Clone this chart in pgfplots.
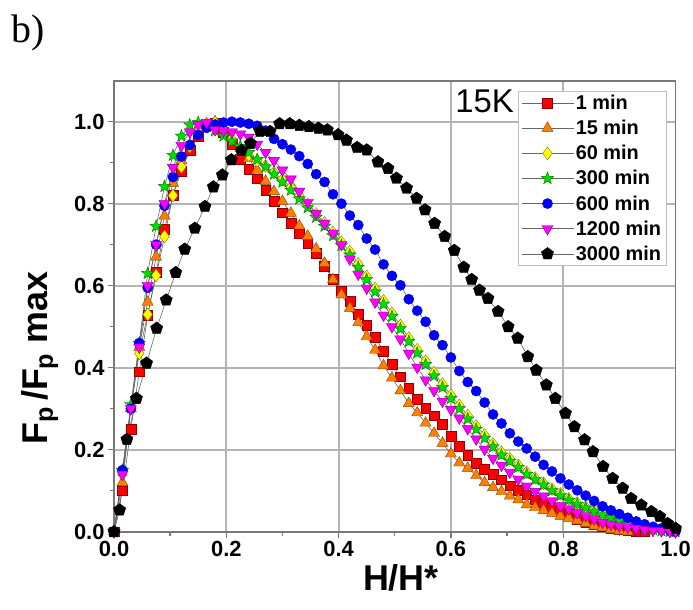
\documentclass[border=0pt]{standalone}
\usepackage{fontspec}
\setmainfont{Liberation Sans}
\newfontfamily\seriffont{Liberation Serif}
\usepackage{pgfplots}
\usepackage{pgfplotstable}
\pgfplotsset{compat=1.18}
\usetikzlibrary{plotmarks}

\definecolor{cred}{RGB}{255,0,0}
\definecolor{corange}{RGB}{255,128,0}
\definecolor{cyellow}{RGB}{255,255,0}
\definecolor{cgreen}{RGB}{0,220,0}
\definecolor{cblue}{RGB}{0,0,255}
\definecolor{cmag}{RGB}{255,0,255}
\definecolor{cgrid}{RGB}{180,180,180}
\definecolor{caxis}{RGB}{120,120,120}

\pgfdeclareplotmark{fstar}{%
  \pgfpathmoveto{\pgfpointpolar{90}{1.2\pgfplotmarksize}}%
  \pgfpathlineto{\pgfpointpolar{126}{0.5\pgfplotmarksize}}%
  \pgfpathlineto{\pgfpointpolar{162}{1.2\pgfplotmarksize}}%
  \pgfpathlineto{\pgfpointpolar{198}{0.5\pgfplotmarksize}}%
  \pgfpathlineto{\pgfpointpolar{234}{1.2\pgfplotmarksize}}%
  \pgfpathlineto{\pgfpointpolar{270}{0.5\pgfplotmarksize}}%
  \pgfpathlineto{\pgfpointpolar{306}{1.2\pgfplotmarksize}}%
  \pgfpathlineto{\pgfpointpolar{342}{0.5\pgfplotmarksize}}%
  \pgfpathlineto{\pgfpointpolar{18}{1.2\pgfplotmarksize}}%
  \pgfpathlineto{\pgfpointpolar{54}{0.5\pgfplotmarksize}}%
  \pgfpathclose
  \pgfusepathqfillstroke
}

\pgfplotstableread{
x r o y g b m
0.000 0.000 0.000 0.000 0.000 0.000 0.000
0.015 0.100 0.120 0.140 0.150 0.150 0.140
0.030 0.250 0.300 0.300 0.310 0.300 0.300
0.045 0.390 0.450 0.435 0.460 0.460 0.450
0.060 0.528 0.560 0.530 0.630 0.595 0.600
0.075 0.633 0.670 0.625 0.745 0.700 0.700
0.090 0.738 0.770 0.720 0.842 0.795 0.800
0.105 0.820 0.850 0.820 0.918 0.865 0.888
0.120 0.880 0.905 0.890 0.965 0.915 0.942
0.135 0.930 0.945 0.940 0.992 0.943 0.975
0.150 0.965 0.975 0.975 0.998 0.968 0.993
0.165 0.990 0.995 0.995 0.990 0.985 0.998
0.180 0.997 1.000 0.998 0.978 0.993 0.980
0.195 0.975 0.985 0.980 0.965 0.998 0.978
0.210 0.945 0.960 0.958 0.953 1.000 0.975
0.225 0.908 0.935 0.935 0.940 0.998 0.970
0.240 0.885 0.910 0.918 0.925 0.995 0.962
0.255 0.861 0.882 0.905 0.908 0.990 0.945
0.270 0.832 0.855 0.892 0.890 0.978 0.925
0.285 0.806 0.830 0.876 0.872 0.958 0.905
0.300 0.778 0.806 0.859 0.853 0.945 0.882
0.315 0.752 0.777 0.840 0.833 0.932 0.860
0.330 0.727 0.746 0.820 0.812 0.916 0.830
0.345 0.704 0.721 0.798 0.790 0.897 0.803
0.360 0.679 0.690 0.775 0.767 0.872 0.776
0.375 0.648 0.655 0.753 0.745 0.853 0.752
0.390 0.616 0.615 0.730 0.722 0.823 0.728
0.405 0.588 0.578 0.706 0.698 0.800 0.700
0.420 0.562 0.545 0.683 0.675 0.771 0.665
0.435 0.531 0.510 0.653 0.645 0.748 0.628
0.450 0.503 0.476 0.623 0.615 0.715 0.594
0.465 0.474 0.443 0.593 0.585 0.688 0.560
0.480 0.441 0.405 0.563 0.555 0.652 0.528
0.495 0.408 0.375 0.533 0.525 0.624 0.500
0.510 0.378 0.344 0.503 0.495 0.601 0.470
0.525 0.350 0.313 0.472 0.464 0.567 0.435
0.540 0.324 0.290 0.444 0.436 0.539 0.401
0.555 0.302 0.265 0.416 0.408 0.512 0.370
0.570 0.283 0.240 0.388 0.380 0.479 0.344
0.585 0.262 0.216 0.360 0.352 0.455 0.318
0.600 0.232 0.190 0.333 0.325 0.425 0.298
0.615 0.208 0.168 0.308 0.300 0.392 0.277
0.630 0.187 0.155 0.283 0.275 0.365 0.251
0.645 0.167 0.137 0.258 0.250 0.343 0.226
0.660 0.152 0.120 0.236 0.228 0.315 0.201
0.675 0.140 0.108 0.214 0.207 0.286 0.179
0.690 0.127 0.098 0.194 0.187 0.264 0.162
0.705 0.112 0.087 0.178 0.172 0.240 0.145
0.720 0.101 0.078 0.162 0.157 0.220 0.128
0.735 0.090 0.066 0.145 0.140 0.203 0.111
0.750 0.078 0.059 0.131 0.127 0.183 0.098
0.765 0.068 0.052 0.118 0.114 0.163 0.087
0.780 0.058 0.045 0.104 0.100 0.147 0.075
0.795 0.051 0.038 0.092 0.088 0.130 0.063
0.810 0.042 0.033 0.080 0.077 0.115 0.056
0.825 0.031 0.027 0.070 0.067 0.101 0.046
0.840 0.023 0.020 0.060 0.058 0.088 0.039
0.855 0.019 0.014 0.051 0.049 0.075 0.031
0.870 0.013 0.010 0.043 0.041 0.062 0.023
0.885 0.008 0.005 0.035 0.034 0.052 0.018
0.900 0.005 0.002 0.028 0.027 0.043 0.014
0.915 0.003 0.000 0.021 0.020 0.034 0.011
0.930 0.001 nan 0.015 0.014 0.025 0.008
0.945 0.000 nan 0.010 0.009 0.018 0.005
0.960 nan nan 0.006 0.005 0.012 0.003
0.975 nan nan 0.003 0.002 0.008 0.002
0.990 nan nan 0.001 0.001 0.003 0.001
1.000 nan nan 0.000 0.000 0.000 0.000
}\datamain

\pgfplotstableread{
x k
0.000 0.000
0.010 0.053
0.023 0.225
0.040 0.325
0.058 0.411
0.076 0.496
0.093 0.565
0.110 0.632
0.126 0.689
0.144 0.740
0.162 0.793
0.177 0.841
0.193 0.870
0.209 0.907
0.227 0.930
0.243 0.947
0.260 0.977
0.278 0.976
0.295 0.995
0.313 0.995
0.330 0.991
0.347 0.988
0.364 0.984
0.380 0.980
0.399 0.968
0.414 0.955
0.433 0.937
0.450 0.931
0.470 0.902
0.488 0.886
0.503 0.862
0.521 0.838
0.539 0.813
0.554 0.785
0.571 0.752
0.589 0.720
0.606 0.686
0.623 0.645
0.637 0.615
0.651 0.589
0.666 0.569
0.684 0.537
0.702 0.500
0.719 0.472
0.737 0.427
0.752 0.394
0.770 0.358
0.786 0.325
0.804 0.289
0.820 0.256
0.838 0.224
0.853 0.195
0.871 0.159
0.888 0.130
0.906 0.106
0.921 0.081
0.939 0.065
0.957 0.049
0.972 0.037
0.986 0.020
1.000 0.008
}\datablack

\begin{document}
\begin{tikzpicture}
\path[use as bounding box] (0bp,0bp) rectangle (693bp,610bp);
\node[anchor=base west, inner sep=0pt, font=\seriffont\fontsize{40}{44}\selectfont] at (11bp,567bp) {b)};
\begin{axis}[
  at={(114bp,78.3bp)}, anchor=south west,
  width=561.5bp, height=451bp, scale only axis,
  xmin=0, xmax=1, ymin=0, ymax=1.1,
  xtick={0,0.2,0.4,0.6,0.8,1}, ytick={0,0.2,0.4,0.6,0.8,1},
  minor xtick={0.1,0.3,0.5,0.7,0.9}, minor ytick={0.1,0.3,0.5,0.7,0.9},
  xtick pos=bottom, ytick pos=left,
  tick align=outside,
  major tick length=6bp, minor tick length=4bp,
  axis line style={caxis, line width=1.8bp},
  tick style={caxis, line width=1.4bp},
  clip=false,
  xticklabel style={/pgf/number format/.cd, fixed, fixed zerofill, precision=1, assume math mode=true},
  yticklabel style={/pgf/number format/.cd, fixed, fixed zerofill, precision=1, assume math mode=true},
  tick label style={font=\fontsize{22}{24}\selectfont\bfseries},
  xlabel={H/H*},
  xlabel style={font=\fontsize{36}{40}\selectfont\bfseries, at={(axis description cs:0.511,-0.103)}, anchor=center},
  ylabel={F\textsubscript{p}\,/F\textsubscript{p} max},
  ylabel style={font=\fontsize{36}{40}\selectfont\bfseries, at={(axis description cs:-0.132,0.385)}, anchor=center},
  legend style={at={(axis description cs:1,1)}, anchor=north east, xshift=-9bp, yshift=-10bp,
    draw=black!25, line width=0.8bp, font=\fontsize{20}{23}\selectfont\bfseries,
    inner xsep=3bp, inner ysep=2bp, row sep=5.2bp, nodes={inner sep=2bp}},
  legend cell align=left,
  legend image code/.code={\draw[mark repeat=2,mark phase=2] plot coordinates {(0bp,0bp) (26bp,0bp) (52bp,0bp)};},
]
% grid lines and frame
\addplot[forget plot, cgrid, line width=2bp] coordinates {(0.2,0) (0.2,1.1)};
\addplot[forget plot, cgrid, line width=2bp] coordinates {(0.4,0) (0.4,1.1)};
\addplot[forget plot, cgrid, line width=2bp] coordinates {(0.6,0) (0.6,1.1)};
\addplot[forget plot, cgrid, line width=2bp] coordinates {(0.8,0) (0.8,1.1)};
\addplot[forget plot, cgrid, line width=2bp] coordinates {(0,0.2) (1,0.2)};
\addplot[forget plot, cgrid, line width=2bp] coordinates {(0,0.4) (1,0.4)};
\addplot[forget plot, cgrid, line width=2bp] coordinates {(0,0.6) (1,0.6)};
\addplot[forget plot, cgrid, line width=2bp] coordinates {(0,0.8) (1,0.8)};
\addplot[forget plot, cgrid, line width=2bp] coordinates {(0,1.0) (1,1.0)};
\addplot[forget plot, caxis, line width=1.8bp] coordinates {(0,0) (1,0) (1,1.1) (0,1.1) (0,0)};
% data
\addplot[line width=0.6bp, color=black!60, mark=square*, mark size=4.9bp, mark options={solid, fill=cred, draw=red!55!black, line width=0.4bp}] table[x=x,y=r]{\datamain};
\addlegendentry{1 min}
\addplot[line width=0.6bp, color=black!60, mark=triangle*, mark size=6.4bp, mark options={solid, fill=corange, draw=corange!55!black, line width=0.4bp}] table[x=x,y=o]{\datamain};
\addlegendentry{15 min}
\addplot[line width=0.6bp, color=black!60, mark=diamond*, mark size=6.4bp, mark options={solid, fill=cyellow, draw=cyellow!50!black, line width=0.4bp}] table[x=x,y=y]{\datamain};
\addlegendentry{60 min}
\addplot[line width=0.6bp, color=black!60, mark=fstar, mark size=5.4bp, mark options={solid, fill=cgreen, draw=cgreen!55!black, line width=0.4bp}] table[x=x,y=g]{\datamain};
\addlegendentry{300 min}
\addplot[line width=0.6bp, color=black!60, mark=*, mark size=5.1bp, mark options={solid, fill=cblue, draw=cblue!80!black, line width=0.4bp}] table[x=x,y=b]{\datamain};
\addlegendentry{600 min}
\addplot[line width=0.6bp, color=black!60, mark=triangle*, mark size=6.4bp, mark options={solid, rotate=180, fill=cmag, draw=cmag!55!black, line width=0.4bp}] table[x=x,y=m]{\datamain};
\addlegendentry{1200 min}
\addplot[line width=0.6bp, color=black!60, mark=pentagon*, mark size=6.4bp, mark options={solid, fill=black, draw=black, line width=0.4bp}] table[x=x,y=k]{\datablack};
\addlegendentry{3000 min}
\node[font=\fontsize{33}{36}\selectfont, anchor=center] at (axis description cs:0.660,0.955) {15K};
\end{axis}
\end{tikzpicture}
\end{document}
